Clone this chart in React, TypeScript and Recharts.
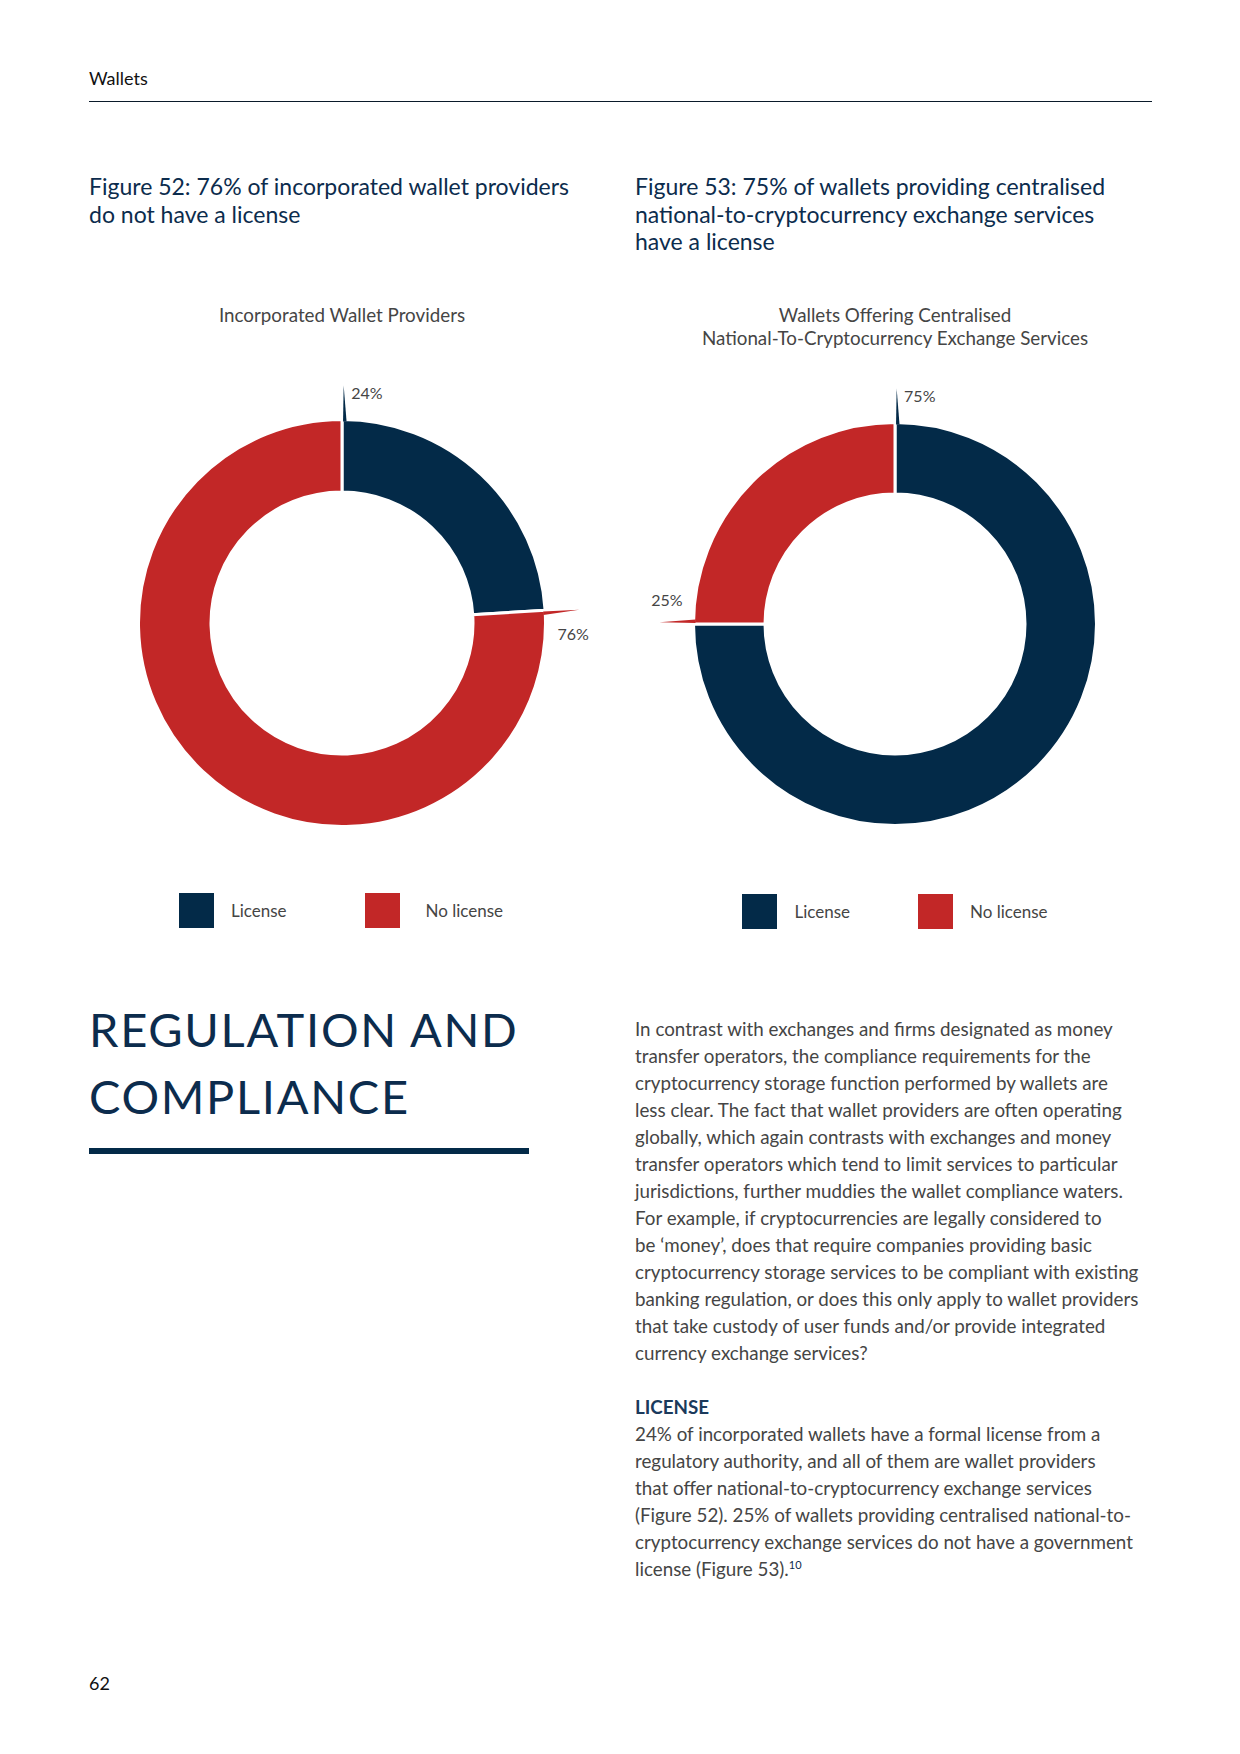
import React from "react";
import { Legend, Pie, PieChart } from "recharts";

const NAVY = "#032a48";
const RED = "#c22727";
const GREY = "#454545";
const INK = "#0c2c4d";

const categories = ["License", "No license"];
const providerValues = [24, 76];
const exchangeValues = [75, 25];
const sliceColors = [NAVY, RED];

const providerData = categories.map((name, i) => ({ name, value: providerValues[i], fill: sliceColors[i] }));
const exchangeData = categories.map((name, i) => ({ name, value: exchangeValues[i], fill: sliceColors[i] }));

const RAD = Math.PI / 180;
const polar = (cx: number, cy: number, r: number, a: number) => ({
  x: cx + r * Math.cos(-a * RAD),
  y: cy + r * Math.sin(-a * RAD),
});

// label sits at the start of each slice, with a thin tapered spike
function spikeLabel(props: any) {
  const { cx, cy, startAngle, outerRadius, fill, value, index } = props;
  const b1 = polar(cx, cy, outerRadius - 2, startAngle - 0.3);
  const b2 = polar(cx, cy, outerRadius - 2, startAngle - 1.3);
  const tip = polar(cx, cy, outerRadius + 34, startAngle - 0.4);
  const t = polar(cx, cy, outerRadius + 28, startAngle - 6.2);
  return (
    <g key={`lbl-${index}`}>
      <polygon points={`${b1.x},${b1.y} ${b2.x},${b2.y} ${tip.x},${tip.y}`} fill={fill} />
      <text x={t.x} y={t.y} textAnchor="middle" dominantBaseline="central" fill={GREY} fontSize={16} fontFamily="Lato">
        {`${value}%`}
      </text>
    </g>
  );
}

function legendContent(gap: number, shift: number, textGaps: number[]) {
  return (props: any) => (
    <div style={{ display: "flex", justifyContent: "center", alignItems: "center", gap, marginLeft: shift }}>
      {(props.payload || []).map((p: any, i: number) => (
        <div key={p.value} style={{ display: "flex", alignItems: "center" }}>
          <span style={{ width: 35, height: 35, background: p.color, display: "inline-block", marginRight: textGaps[i] }} />
          <span style={{ fontFamily: "Lato", fontSize: 17, color: GREY }}>{p.value}</span>
        </div>
      ))}
    </div>
  );
}

function Donut({ data, outer, inner, gap, shift, textGaps }: { data: any[]; outer: number; inner: number; gap: number; shift: number; textGaps: number[] }) {
  return (
    <PieChart width={540} height={600} margin={{ top: 0, right: 0, bottom: 0, left: 0 }} style={{ position: "absolute", left: 0, top: 0 }}>
      <Pie
        data={data}
        dataKey="value"
        nameKey="name"
        cx={270}
        cy={280}
        outerRadius={outer}
        innerRadius={inner}
        startAngle={90}
        endAngle={-270}
        stroke="#ffffff"
        strokeWidth={3}
        label={spikeLabel}
        labelLine={false}
        isAnimationActive={false}
      />
      <Legend content={legendContent(gap, shift, textGaps)} wrapperStyle={{ position: "absolute", left: 0, top: 550, width: 540 }} />
    </PieChart>
  );
}

const abs = (left: number, top: number, extra: React.CSSProperties = {}): React.CSSProperties => ({
  position: "absolute",
  left,
  top,
  margin: 0,
  ...extra,
});

const para1 = [
  "In contrast with exchanges and firms designated as money",
  "transfer operators, the compliance requirements for the",
  "cryptocurrency storage function performed by wallets are",
  "less clear. The fact that wallet providers are often operating",
  "globally, which again contrasts with exchanges and money",
  "transfer operators which tend to limit services to particular",
  "jurisdictions, further muddies the wallet compliance waters.",
  "For example, if cryptocurrencies are legally considered to",
  "be \u2018money\u2019, does that require companies providing basic",
  "cryptocurrency storage services to be compliant with existing",
  "banking regulation, or does this only apply to wallet providers",
  "that take custody of user funds and/or provide integrated",
  "currency exchange services?",
];

const para2 = [
  "24% of incorporated wallets have a formal license from a",
  "regulatory authority, and all of them are wallet providers",
  "that offer national-to-cryptocurrency exchange services",
  "(Figure 52). 25% of wallets providing centralised national-to-",
  "cryptocurrency exchange services do not have a government",
];

export default function App() {
  const body: React.CSSProperties = { fontFamily: "Lato", fontSize: 18.8, lineHeight: "27px", color: GREY };
  const title: React.CSSProperties = { fontFamily: "Lato", fontSize: 23, lineHeight: "27.5px", color: INK };
  const sub: React.CSSProperties = { fontFamily: "Lato", fontSize: 18.8, lineHeight: "23px", color: GREY, textAlign: "center" };
  return (
    <div style={{ position: "absolute", left: 0, top: 0, width: 1240, height: 1754, background: "#fff", overflow: "hidden" }}>
      <div style={abs(89, 67, { fontFamily: "Lato", fontSize: 18, color: "#111" })}>Wallets</div>
      <div style={abs(89, 101, { width: 1063, height: 1, background: "#0a1a2a" })} />

      <div style={abs(89, 173, title)}>
        Figure 52: 76% of incorporated wallet providers
        <br />
        do not have a license
      </div>
      <div style={abs(635, 173, title)}>
        Figure 53: 75% of wallets providing centralised
        <br />
        national-to-cryptocurrency exchange services
        <br />
        have a license
      </div>

      <div style={abs(72, 303, { ...sub, width: 540 })}>Incorporated Wallet Providers</div>
      <div style={abs(625, 303, { ...sub, width: 540 })}>
        Wallets Offering Centralised
        <br />
        National-To-Cryptocurrency Exchange Services
      </div>

      <div style={abs(72, 343, { width: 540, height: 600 })}>
        <Donut data={providerData} outer={203.5} inner={131} gap={78} shift={-2} textGaps={[17, 26]} />
      </div>
      <div style={abs(625, 344, { width: 540, height: 600 })}>
        <Donut data={exchangeData} outer={201.5} inner={130} gap={68} shift={0} textGaps={[17, 17]} />
      </div>

      <div style={abs(89, 996, { fontFamily: "Lato", fontSize: 47, lineHeight: "67px", color: INK, letterSpacing: 1.7 })}>
        REGULATION AND
        <br />
        COMPLIANCE
      </div>
      <div style={abs(89, 1148, { width: 440, height: 6, background: NAVY })} />

      <div style={abs(635, 1015, body)}>
        {para1.map((l) => (
          <div key={l}>{l}</div>
        ))}
      </div>

      <div style={abs(635, 1393, { ...body, color: "#1b3a5c", fontWeight: 700 })}>LICENSE</div>
      <div style={abs(635, 1420, body)}>
        {para2.map((l) => (
          <div key={l}>{l}</div>
        ))}
        <div>
          license (Figure 53).
          <span style={{ fontSize: 11, color: INK, position: "relative", top: -7, lineHeight: 0 }}>10</span>
        </div>
      </div>

      <div style={abs(89, 1672, { fontFamily: "Lato", fontSize: 18, color: "#111" })}>62</div>
    </div>
  );
}
